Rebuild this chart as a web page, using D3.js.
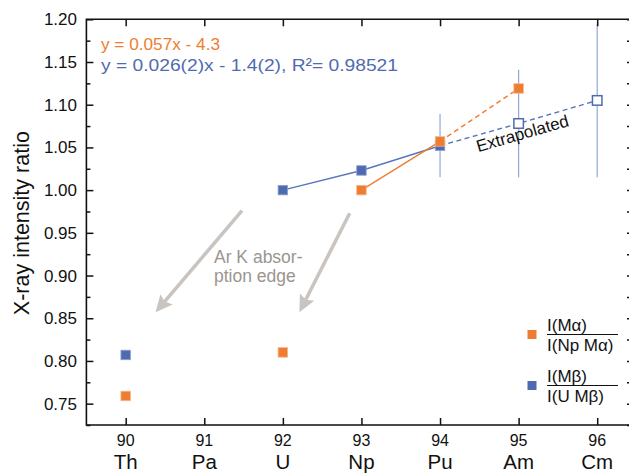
<!DOCTYPE html>
<html>
<head>
<meta charset="utf-8">
<script src="https://cdn.jsdelivr.net/npm/d3@7"></script>
<style>
  body { margin: 0; background: #fff; }
  text { font-family: "Liberation Sans", Arial, sans-serif; }
</style>
</head>
<body>
<script>
const W = 629, H = 473;

// atomic numbers and element symbols
const zNums = [90, 91, 92, 93, 94, 95, 96];
const elements = ["Th", "Pa", "U", "Np", "Pu", "Am", "Cm"];

// I(Ma)/I(Np Ma)  - orange
const alphaPts = [
  { z: 90, v: 0.759 },
  { z: 92, v: 0.810 },
  { z: 93, v: 1.000 },
  { z: 94, v: 1.057 },
  { z: 95, v: 1.119 }
];
const alphaSolid = [{ z: 93, v: 1.000 }, { z: 94, v: 1.057 }];
const alphaExtra = [{ z: 94, v: 1.057 }, { z: 95, v: 1.119 }];

// I(Mb)/I(U Mb) - blue
const betaPts = [
  { z: 90, v: 0.807 },
  { z: 92, v: 1.000 },
  { z: 93, v: 1.023 },
  { z: 94, v: 1.052 }
];
const betaSolid = [{ z: 92, v: 1.000 }, { z: 93, v: 1.023 }, { z: 94, v: 1.052 }];
const betaExtra = [{ z: 94, v: 1.052 }, { z: 95, v: 1.078 }, { z: 96, v: 1.105 }];
const betaOpen = [{ z: 95, v: 1.078 }, { z: 96, v: 1.105 }];

// error bars (low, high)
const errBars = [
  { z: 94, lo: 1.015, hi: 1.089 },
  { z: 95, lo: 1.015, hi: 1.141 },
  { z: 96, lo: 1.015, hi: 1.195 }
];

// y ticks
const yMajor = [0.75, 0.80, 0.85, 0.90, 0.95, 1.00, 1.05, 1.10, 1.15, 1.20];
const yMinor = [0.725, 0.775, 0.825, 0.875, 0.925, 0.975, 1.025, 1.075, 1.125, 1.175];

// annotation arrows in data units
const arrows = [
  { z0: 91.48, v0: 0.976, z1: 90.38, v1: 0.857 },
  { z0: 92.85, v0: 0.973, z1: 92.21, v1: 0.857 }
];

const ORANGE = "#ef7d31";
const BLUE = "#4f6bb0";
const BLUE_LINE = "#5a76ba";
const ERR = "#93a6d6";
const GREY = "#c9c4bf";

const plotL = 86.4, plotR = 631, plotT = 19.3, plotB = 425;

const x = d3.scaleLinear().domain([89.5, 96.43]).range([plotL, plotR]);
const y = d3.scaleLinear().domain([0.725, 1.2]).range([plotB, plotT]);

const svg = d3.select("body").append("svg")
  .attr("width", W)
  .attr("height", H);

// error bars
svg.selectAll(".err").data(errBars).enter().append("line")
  .attr("x1", d => x(d.z)).attr("x2", d => x(d.z))
  .attr("y1", d => y(d.lo)).attr("y2", d => y(Math.min(d.hi, 1.2)))
  .attr("stroke", ERR).attr("stroke-width", 1.2);

// axes
svg.append("g").attr("transform", `translate(0,${plotB})`)
  .call(d3.axisBottom(x).tickValues(zNums).tickSize(-7).tickFormat(""))
  .call(g => g.select(".domain").remove());
svg.append("g").attr("transform", `translate(0,${plotT})`)
  .call(d3.axisTop(x).tickValues(zNums).tickSize(-7).tickFormat(""))
  .call(g => g.select(".domain").remove());
svg.append("g").attr("transform", `translate(${plotL},0)`)
  .call(d3.axisLeft(y).tickValues(yMajor).tickSize(-7).tickFormat(""))
  .call(g => g.select(".domain").remove());
svg.append("g").attr("transform", `translate(${plotL},0)`)
  .call(d3.axisLeft(y).tickValues(yMinor).tickSize(-4).tickFormat(""))
  .call(g => g.select(".domain").remove());
svg.append("g").attr("transform", `translate(${plotR},0)`)
  .call(d3.axisRight(y).tickValues(yMajor.concat(yMinor)).tickSize(-4).tickFormat(""))
  .call(g => g.select(".domain").remove());

svg.selectAll(".tick line").attr("stroke", "#111").attr("stroke-width", 1.5);

// frame
svg.append("path")
  .attr("d", `M${plotR},${plotT}H${plotL}V${plotB}H${plotR}`)
  .attr("fill", "none").attr("stroke", "#111").attr("stroke-width", 1.6);

// tick labels
svg.selectAll(".ylab").data(yMajor).enter().append("text")
  .attr("x", 77).attr("y", d => y(d) + 6)
  .attr("text-anchor", "end").attr("font-size", 17).attr("fill", "#111")
  .text(d => d.toFixed(2));

svg.selectAll(".xnum").data(zNums).enter().append("text")
  .attr("x", d => x(d)).attr("y", 446)
  .attr("text-anchor", "middle").attr("font-size", 16).attr("fill", "#111")
  .text(d => d);

svg.selectAll(".xel").data(elements).enter().append("text")
  .attr("x", (d, i) => x(zNums[i])).attr("y", 469)
  .attr("text-anchor", "middle").attr("font-size", 20.5).attr("fill", "#111")
  .text(d => d);

svg.append("text")
  .attr("transform", `translate(29,${(plotT + plotB) / 2 + 1}) rotate(-90)`)
  .attr("text-anchor", "middle").attr("font-size", 21.5).attr("fill", "#111")
  .text("X-ray intensity ratio");

// lines
const line = d3.line().x(d => x(d.z)).y(d => y(d.v));

svg.append("path").datum(betaExtra).attr("d", line)
  .attr("fill", "none").attr("stroke", BLUE_LINE).attr("stroke-width", 1.4)
  .attr("stroke-dasharray", "5,3.5");
svg.append("path").datum(alphaExtra).attr("d", line)
  .attr("fill", "none").attr("stroke", ORANGE).attr("stroke-width", 1.4)
  .attr("stroke-dasharray", "5,3.5");
svg.append("path").datum(betaSolid).attr("d", line)
  .attr("fill", "none").attr("stroke", BLUE_LINE).attr("stroke-width", 1.4);
svg.append("path").datum(alphaSolid).attr("d", line)
  .attr("fill", "none").attr("stroke", ORANGE).attr("stroke-width", 1.4);

// markers
const S = 9.5;
svg.selectAll(".bo").data(betaOpen).enter().append("rect")
  .attr("x", d => x(d.z) - S / 2).attr("y", d => y(d.v) - S / 2)
  .attr("width", S).attr("height", S)
  .attr("fill", "#fff").attr("stroke", BLUE).attr("stroke-width", 1.5);
svg.selectAll(".bp").data(betaPts).enter().append("rect")
  .attr("x", d => x(d.z) - S / 2).attr("y", d => y(d.v) - S / 2)
  .attr("width", S).attr("height", S)
  .attr("fill", BLUE).attr("stroke", "#8fa0cf").attr("stroke-width", 0.8);
svg.selectAll(".ap").data(alphaPts).enter().append("rect")
  .attr("x", d => x(d.z) - S / 2).attr("y", d => y(d.v) - S / 2)
  .attr("width", S).attr("height", S)
  .attr("fill", ORANGE).attr("stroke", "#f6b58a").attr("stroke-width", 0.8);

// equations
svg.append("text").attr("x", 101).attr("y", 50)
  .attr("font-size", 17).attr("fill", ORANGE)
  .attr("textLength", 119).attr("lengthAdjust", "spacingAndGlyphs")
  .text("y = 0.057x - 4.3");
svg.append("text").attr("x", 101).attr("y", 70.5)
  .attr("font-size", 17).attr("fill", BLUE)
  .attr("textLength", 297).attr("lengthAdjust", "spacingAndGlyphs")
  .text("y = 0.026(2)x - 1.4(2), R²= 0.98521");

// extrapolated label
svg.append("text")
  .attr("transform", "translate(524,139) rotate(-16)")
  .attr("text-anchor", "middle").attr("font-size", 17).attr("fill", "#111")
  .text("Extrapolated");

// arrows
arrows.forEach(a => {
  const x0 = x(a.z0), y0 = y(a.v0), x1 = x(a.z1), y1 = y(a.v1);
  const ang = Math.atan2(y1 - y0, x1 - x0);
  const L = 17, hw = 8;
  const bx = x1 - L * Math.cos(ang), by = y1 - L * Math.sin(ang);
  const nx = -Math.sin(ang), ny = Math.cos(ang);
  svg.append("line")
    .attr("x1", x0).attr("y1", y0)
    .attr("x2", x1 - (L - 3) * Math.cos(ang)).attr("y2", y1 - (L - 3) * Math.sin(ang))
    .attr("stroke", GREY).attr("stroke-width", 3.5);
  const nb = 3;
  svg.append("path")
    .attr("d", `M${x1},${y1}L${bx + hw * nx},${by + hw * ny}L${bx + nb * Math.cos(ang)},${by + nb * Math.sin(ang)}L${bx - hw * nx},${by - hw * ny}Z`)
    .attr("fill", GREY);
});

svg.append("text").attr("x", 214).attr("y", 263)
  .attr("font-size", 17.5).attr("fill", "#9b9591")
  .text("Ar K absor-");
svg.append("text").attr("x", 214).attr("y", 281.5)
  .attr("font-size", 17.5).attr("fill", "#9b9591")
  .text("ption edge");

// legend
const legend = [
  { color: ORANGE, num: "I(Mα)", den: "I(Np Mα)", yc: 334.5 },
  { color: BLUE, num: "I(Mβ)", den: "I(U Mβ)", yc: 385.5 }
];
const lg = svg.selectAll(".lg").data(legend).enter().append("g");
lg.append("rect")
  .attr("x", 527.5).attr("y", d => d.yc - 4.5)
  .attr("width", 9).attr("height", 9).attr("fill", d => d.color);
lg.append("line")
  .attr("x1", 547).attr("x2", 618).attr("y1", d => d.yc).attr("y2", d => d.yc)
  .attr("stroke", "#111").attr("stroke-width", 1);
lg.append("text").attr("x", 547).attr("y", d => d.yc - 4)
  .attr("font-size", 17).attr("fill", "#111").text(d => d.num);
lg.append("text").attr("x", 547).attr("y", d => d.yc + 16)
  .attr("font-size", 17).attr("fill", "#111").text(d => d.den);
</script>
</body>
</html>
